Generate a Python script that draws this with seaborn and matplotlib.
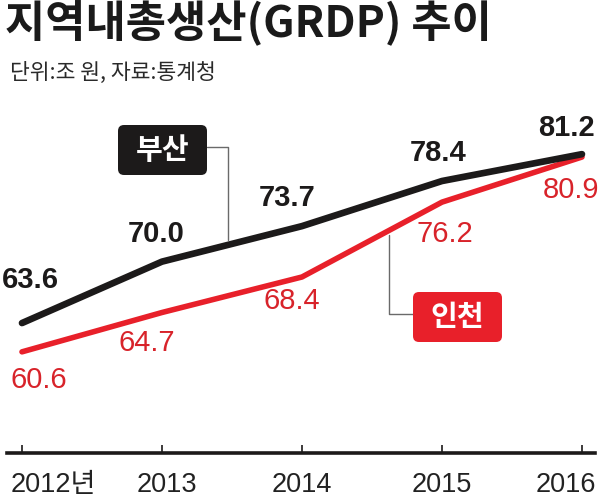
import matplotlib
matplotlib.use("Agg")
import matplotlib.pyplot as plt
import seaborn as sns
import pandas as pd
from matplotlib import font_manager as fm
from matplotlib.patches import FancyBboxPatch
from matplotlib.lines import Line2D
from matplotlib.transforms import ScaledTranslation

# ---- data ----
years = [2012, 2013, 2014, 2015, 2016]
year_labels = ["2012년", "2013", "2014", "2015", "2016"]
busan = [63.6, 70.0, 73.7, 78.4, 81.2]
incheon = [60.6, 64.7, 68.4, 76.2, 80.9]
series_names = ["부산", "인천"]
title = "지역내총생산(GRDP) 추이"
subtitle = "단위:조 원, 자료:통계청"

sns.set_theme(style="white")
names = {f.name for f in fm.fontManager.ttflist}
NUM = "Liberation Sans Narrow" if "Liberation Sans Narrow" in names else "Liberation Sans"
KR = "Noto Sans CJK KR"
plt.rcParams['font.family'] = [KR, 'DejaVu Sans']

BLACK = "#1c1a1a"
RED = "#e8202a"
RED_T = "#d8232a"

df = pd.DataFrame({
    "year": years * 2,
    "value": busan + incheon,
    "city": [series_names[0]] * len(years) + [series_names[1]] * len(years),
})

W, H = 600, 501
fig = plt.figure(figsize=(W / 100, H / 100), dpi=100)
fig.patch.set_facecolor("white")
ax = fig.add_axes([7 / W, 48 / H, 588 / W, 343 / H])

sns.lineplot(data=df, x="year", y="value", hue="city",
             palette={series_names[0]: BLACK, series_names[1]: RED},
             linewidth=4.4, ax=ax, legend=False, sort=False)
for l, lw in zip(ax.lines, [4.8, 4.0]):
    l.set_linewidth(lw)
    l.set_solid_capstyle("round")
    l.set_solid_joinstyle("round")
if len(ax.lines) >= 2:
    ax.lines[0].set_zorder(3)
    ax.lines[1].set_zorder(2)

ax.set_xlim(2011.893, 2016.093)
ax.set_ylim(50.06, 85.8)
ax.set_facecolor("white")
for s in ["left", "right", "top"]:
    ax.spines[s].set_visible(False)
ax.spines["bottom"].set_linewidth(2.6)
ax.spines["bottom"].set_color(BLACK)
ax.set_yticks([])
ax.set_xticks(years)
ax.set_xticklabels(year_labels)
ax.tick_params(axis="x", direction="in", length=6, width=1.2, color=BLACK, pad=14,
               bottom=True)
ax.set_xlabel("")
ax.set_ylabel("")
fig.canvas.draw()
shifts = [(-11, "left"), (5, "center"), (0, "center"), (0, "center"), (14, "right")]
for t, (dx, ha) in zip(ax.get_xticklabels(), shifts):
    t.set_family([NUM, KR])
    t.set_fontsize(19.5)
    t.set_color("#222222")
    t.set_ha(ha)
    t.set_transform(t.get_transform() + ScaledTranslation(dx / 100, 0, fig.dpi_scale_trans))

# value labels (offsets in points)
b_off = [(6, 31), (-4, 20), (-11, 20), (-3, 20), (-11, 19)]
i_off = [(12, -20), (-11, -22), (-7, -17), (2, -23), (-8, -24)]
for x, v, (dx, dy) in zip(years, busan, b_off):
    ax.annotate(f"{v:.1f}", (x, v), xytext=(dx, dy), textcoords="offset points",
                ha="center", va="center", fontsize=21, fontweight="bold",
                family=[NUM], color=BLACK)
for x, v, (dx, dy) in zip(years, incheon, i_off):
    ax.annotate(f"{v:.1f}", (x, v), xytext=(dx, dy), textcoords="offset points",
                ha="center", va="center", fontsize=21,
                family=[NUM], color=RED_T)

tr = fig.dpi_scale_trans


def px(x, y):
    return x / 100, (H - y) / 100


def box(x0, y0, x1, y1, color, label):
    bx, by = px(x0, y1)
    p = FancyBboxPatch((bx, by), (x1 - x0) / 100, (y1 - y0) / 100,
                       boxstyle="round,pad=0,rounding_size=0.06",
                       transform=tr, facecolor=color, edgecolor="none", zorder=5)
    fig.add_artist(p)
    cx, cy = px((x0 + x1) / 2, (y0 + y1) / 2)
    fig.text(cx, cy, label, transform=tr, ha="center", va="center",
             color="white", fontsize=21, fontweight="bold", family=[KR], zorder=6)


def leader(pts):
    xs = [px(a, b)[0] for a, b in pts]
    ys = [px(a, b)[1] for a, b in pts]
    fig.add_artist(Line2D(xs, ys, transform=tr, color="#6a6a6a", linewidth=1.0, zorder=1))


leader([(207, 147), (228, 147), (228, 240)])
leader([(413, 314), (389, 314), (389, 235)])
box(118, 125, 207, 175, BLACK, series_names[0])
box(413, 292, 502, 342, RED, series_names[1])

fig.text(5 / W, 1 - 23 / H, title, ha="left", va="center", fontsize=31.5,
         fontweight="heavy", family=[KR], color="#1a1a1a")
fig.text(10 / W, 1 - 73 / H, subtitle, ha="left", va="center", fontsize=15.5,
         family=[KR], color="#2a2a2a")

fig.savefig("out.png", dpi=100, facecolor="white")
